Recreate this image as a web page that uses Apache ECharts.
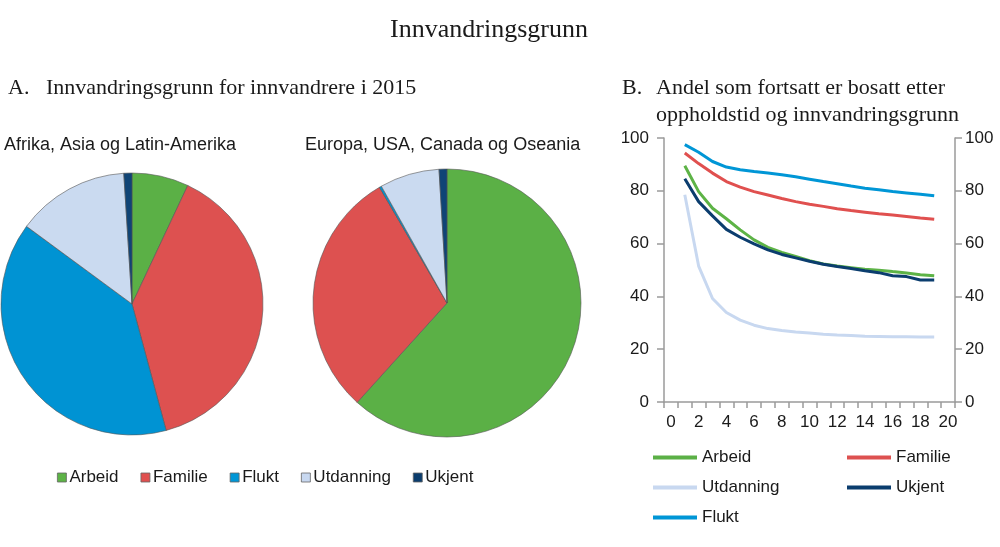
<!DOCTYPE html>
<html>
<head>
<meta charset="utf-8">
<script src="https://cdn.jsdelivr.net/npm/echarts@6/dist/echarts.min.js"></script>
<style>
  html, body { margin: 0; padding: 0; background: #fff; }
  #chart { width: 1000px; height: 547px; }
</style>
</head>
<body>
<div id="chart"></div>
<script>
// categories
const reasons = ['Arbeid', 'Familie', 'Flukt', 'Utdanning', 'Ukjent']
const reasonColors = ['#5BB046', '#DD5150', '#0093D3', '#CADAF0', '#0F4476']

// panel A: share of immigrants by reason, 2015 (per cent)
const pieAfrikaAsia = [7.0, 38.8, 39.3, 13.9, 1.0]
const pieEuropaUsa = [61.7, 29.9, 0.26, 7.2, 0.95]

// panel B: share still resident by years of stay (0..20)
const years = ['0', '1', '2', '3', '4', '5', '6', '7', '8', '9', '10',
  '11', '12', '13', '14', '15', '16', '17', '18', '19', '20']
const arbeid = [null, 89.5, 79.7, 73.4, 69.4, 65.2, 61.4, 58.6, 56.7, 55.1, 53.5,
  52.3, 51.5, 50.9, 50.3, 49.9, 49.4, 48.9, 48.2, 47.8, null]
const familie = [null, 94.3, 90.3, 86.7, 83.5, 81.4, 79.7, 78.4, 77.1, 75.9, 74.9,
  74.1, 73.2, 72.5, 71.9, 71.3, 70.8, 70.3, 69.7, 69.2, null]
const utdanning = [null, 78.5, 51.5, 39.2, 33.9, 31.0, 29.1, 27.8, 27.1, 26.5, 26.1,
  25.7, 25.4, 25.2, 24.9, 24.8, 24.7, 24.7, 24.6, 24.6, null]
const ukjent = [null, 84.6, 75.9, 70.5, 65.4, 62.4, 59.9, 57.6, 55.9, 54.6, 53.3,
  52.2, 51.3, 50.6, 49.7, 49.0, 47.8, 47.5, 46.2, 46.2, null]
const flukt = [null, 97.5, 94.6, 91.1, 89.0, 88.0, 87.3, 86.7, 86.1, 85.3, 84.4,
  83.5, 82.7, 81.8, 81.0, 80.4, 79.7, 79.2, 78.7, 78.1, null]
const yTicks = { min: 0, max: 100, interval: 20 }

const sans = 'Liberation Sans, Arial, Helvetica, sans-serif'
const serif = 'Liberation Serif, Times New Roman, serif'
const textColor = '#1a1a1a'
const axisColor = '#9a9a9a'

const chart = echarts.init(document.getElementById('chart'), null, { renderer: 'canvas' })

// build pie data
const pieData = (values) => values.map((v, i) => ({
  name: reasons[i],
  value: v,
  itemStyle: { color: reasonColors[i] }
}))

const pieSeries = (center, radius, values) => ({
  type: 'pie',
  center: center,
  radius: radius,
  startAngle: 90,
  clockwise: true,
  label: { show: false },
  labelLine: { show: false },
  emphasis: { disabled: true },
  itemStyle: { borderColor: '#555', borderWidth: 0.6 },
  data: pieData(values)
})

const lineSeries = (name, data, color) => ({
  type: 'line',
  name: name,
  data: data,
  xAxisIndex: 0,
  yAxisIndex: 0,
  symbol: 'none',
  smooth: false,
  lineStyle: { color: color, width: 3 },
  itemStyle: { color: color },
  emphasis: { disabled: true }
})

const lineLegend = (name, color, left, top) => ({
  data: [name],
  left: left,
  top: top,
  padding: 0,
  icon: 'rect',
  itemWidth: 44,
  itemHeight: 4,
  itemStyle: { color: color, borderWidth: 0 },
  selectedMode: false,
  textStyle: { fontFamily: sans, fontSize: 17, color: textColor }
})

const titleText = (text, left, top, size, family, align) => ({
  text: text,
  left: left,
  top: top,
  padding: 0,
  textAlign: align || 'left',
  textStyle: { fontFamily: family, fontSize: size, fontWeight: 'normal', color: textColor }
})

const option = {
  animation: false,
  backgroundColor: '#fff',
  title: [
    titleText('Innvandringsgrunn', 489, 17, 26, serif, 'center'),
    titleText('A.', 8, 77, 22, serif),
    titleText('Innvandringsgrunn for innvandrere i 2015', 46, 77, 22, serif),
    titleText('B.', 622, 77, 22, serif),
    titleText('Andel som fortsatt er bosatt etter', 656, 77, 22, serif),
    titleText('oppholdstid og innvandringsgrunn', 656, 104, 22, serif),
    titleText('Afrika, Asia og Latin-Amerika', 4, 136, 18, sans),
    titleText('Europa, USA, Canada og Oseania', 305, 136, 18, sans)
  ],
  legend: [
    {
      data: reasons,
      left: 57,
      top: 469,
      padding: 0,
      icon: 'rect',
      itemWidth: 9,
      itemHeight: 9,
      itemGap: 22,
      itemStyle: { borderColor: '#666', borderWidth: 0.8 },
      selectedMode: false,
      textStyle: { fontFamily: sans, fontSize: 17, color: textColor, padding: [0, 0, 0, -2] }
    },
    lineLegend('Arbeid', reasonColors[0], 653, 449),
    lineLegend('Familie', reasonColors[1], 847, 449),
    lineLegend('Utdanning', '#C8D8F0', 653, 479),
    lineLegend('Ukjent', '#0B3D6E', 847, 479),
    lineLegend('Flukt', '#0096D6', 653, 509)
  ],
  grid: { left: 664, right: 45, top: 138, bottom: 145, containLabel: false },
  xAxis: {
    type: 'category',
    data: years,
    boundaryGap: true,
    axisLine: { lineStyle: { color: axisColor, width: 1.5 } },
    axisTick: { show: true, interval: 0, length: 6, lineStyle: { color: axisColor, width: 1.5 } },
    axisLabel: { interval: 1, margin: 12, fontFamily: sans, fontSize: 17, color: textColor },
    splitLine: { show: false }
  },
  yAxis: [
    {
      type: 'value',
      position: 'left',
      ...yTicks,
      axisLine: { show: true, lineStyle: { color: axisColor, width: 1.5 } },
      axisTick: { show: true, length: 7, lineStyle: { color: axisColor, width: 1.5 } },
      axisLabel: { margin: 15, fontFamily: sans, fontSize: 17, color: textColor },
      splitLine: { show: false }
    },
    {
      type: 'value',
      position: 'right',
      ...yTicks,
      axisLine: { show: true, lineStyle: { color: axisColor, width: 1.5 } },
      axisTick: { show: true, length: 7, lineStyle: { color: axisColor, width: 1.5 } },
      axisLabel: { margin: 10, fontFamily: sans, fontSize: 17, color: textColor },
      splitLine: { show: false }
    }
  ],
  series: [
    pieSeries([132, 304], 131, pieAfrikaAsia),
    pieSeries([447, 303], 134, pieEuropaUsa),
    lineSeries('Utdanning', utdanning, '#C8D8F0'),
    lineSeries('Familie', familie, '#E0504F'),
    lineSeries('Flukt', flukt, '#0096D6'),
    lineSeries('Arbeid', arbeid, '#5DB346'),
    lineSeries('Ukjent', ukjent, '#0B3D6E')
  ]
}

chart.setOption(option)
window.addEventListener('resize', () => chart.resize())
</script>
</body>
</html>
